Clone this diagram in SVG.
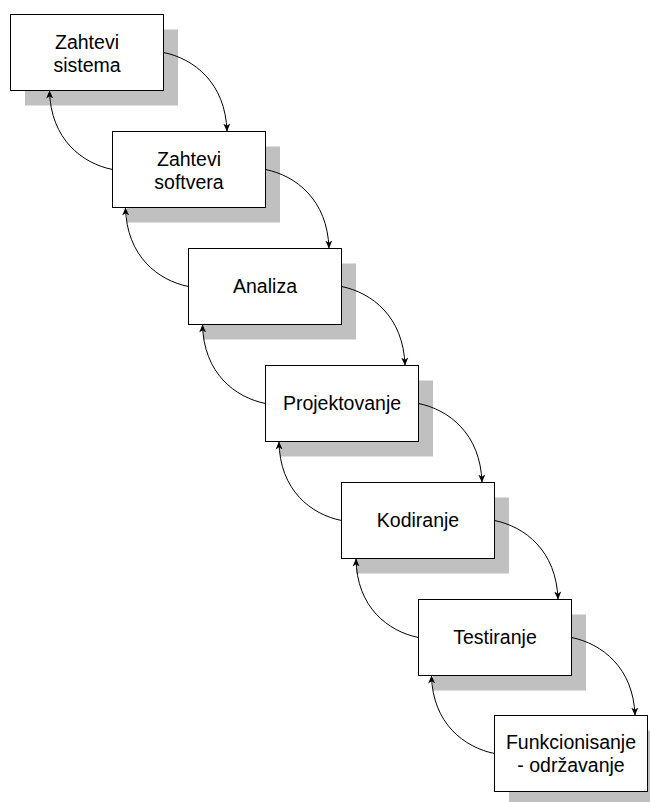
<svg xmlns="http://www.w3.org/2000/svg" width="650" height="802" viewBox="0 0 650 802">
  <style>
    .shadow { fill: #c0c0c0; stroke: none; }
    .box { fill: #ffffff; stroke: #000000; stroke-width: 1; }
    .label { font-family: "Liberation Sans", Arial, sans-serif; font-size: 19.5px; fill: #000000; text-anchor: middle; }
    .link { fill: none; stroke: #000000; stroke-width: 1; marker-end: url(#arrow); }
  </style>
  <defs>
    <marker id="arrow" viewBox="0 0 8 8" refX="8" refY="4" markerWidth="8" markerHeight="8" markerUnits="userSpaceOnUse" orient="auto">
      <path d="M0,0.5 L8,4 L0,7.5 L2.2,4 Z" fill="#000000"/>
    </marker>
  </defs>
  <rect width="650" height="802" fill="#ffffff"/>

  <!-- phases of the waterfall model -->
  <g id="zahtevi-sistema">
    <rect class="shadow" x="25" y="29.5" width="153" height="76"/>
    <rect class="box" x="10.5" y="14.5" width="153" height="76"/>
    <text class="label" x="87" y="49">Zahtevi</text>
    <text class="label" x="87" y="72">sistema</text>
  </g>
  <g id="zahtevi-softvera">
    <rect class="shadow" x="127" y="146.5" width="153" height="76"/>
    <rect class="box" x="112.5" y="131.5" width="153" height="76"/>
    <text class="label" x="189" y="166">Zahtevi</text>
    <text class="label" x="189" y="189">softvera</text>
  </g>
  <g id="analiza">
    <rect class="shadow" x="203" y="263.5" width="153" height="76"/>
    <rect class="box" x="188.5" y="248.5" width="153" height="76"/>
    <text class="label" x="265" y="292.5">Analiza</text>
  </g>
  <g id="projektovanje">
    <rect class="shadow" x="280" y="380.5" width="153" height="76"/>
    <rect class="box" x="265.5" y="365.5" width="153" height="76"/>
    <text class="label" x="342" y="409.5">Projektovanje</text>
  </g>
  <g id="kodiranje">
    <rect class="shadow" x="356" y="497.5" width="153" height="76"/>
    <rect class="box" x="341.5" y="482.5" width="153" height="76"/>
    <text class="label" x="418" y="526.5">Kodiranje</text>
  </g>
  <g id="testiranje">
    <rect class="shadow" x="433" y="614.5" width="153" height="76"/>
    <rect class="box" x="418.5" y="599.5" width="153" height="76"/>
    <text class="label" x="495" y="643.5">Testiranje</text>
  </g>
  <g id="funkcionisanje">
    <rect class="shadow" x="509" y="730.5" width="153" height="76"/>
    <rect class="box" x="494.5" y="715.5" width="153" height="76"/>
    <text class="label" x="571" y="748.5">Funkcionisanje</text>
    <text class="label" x="571" y="772">- održavanje</text>
  </g>

  <!-- forward and feedback transitions -->
  <g id="connectors">
    <path class="link" d="M163.5,52.5 C193.5,58.5 225.5,82.5 227,131.5"/>
    <path class="link" d="M112.5,169.5 C82.5,163.5 50.5,139.5 49.5,90.5"/>

    <path class="link" d="M265.5,169.5 C295.5,175.5 327.5,199.5 329,248.5"/>
    <path class="link" d="M188.5,286.5 C158.5,280.5 126.5,256.5 125.5,207.5"/>

    <path class="link" d="M341.5,286.5 C371.5,292.5 403.5,316.5 405,365.5"/>
    <path class="link" d="M265.5,403.5 C235.5,397.5 203.5,373.5 202.5,324.5"/>

    <path class="link" d="M418.5,403.5 C448.5,409.5 480.5,433.5 482,482.5"/>
    <path class="link" d="M341.5,520.5 C311.5,514.5 279.5,490.5 279,441.5"/>

    <path class="link" d="M494.5,520.5 C524.5,526.5 556.5,550.5 558,599.5"/>
    <path class="link" d="M418.5,637.5 C388.5,631.5 356.5,607.5 356,558.5"/>

    <path class="link" d="M571.5,637.5 C601.5,643.5 633.5,667.5 635,715.5"/>
    <path class="link" d="M494.5,753.5 C464.5,747.5 432.5,723.5 431.5,675.5"/>
  </g>
</svg>
